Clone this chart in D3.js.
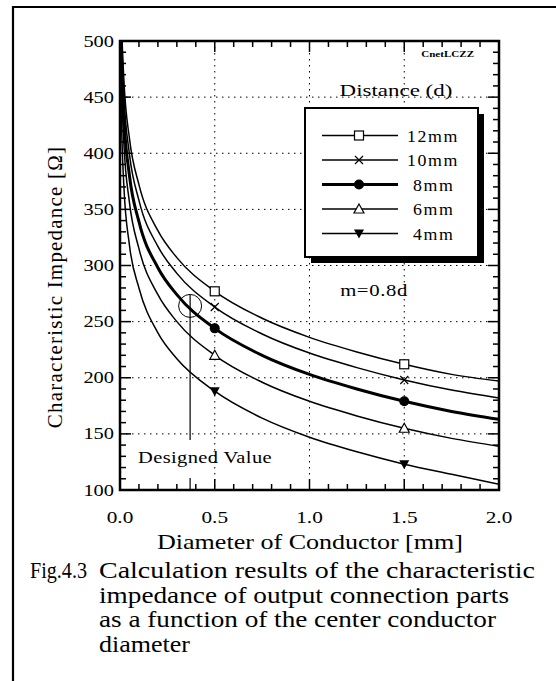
<!DOCTYPE html>
<html><head><meta charset="utf-8">
<script src="https://cdn.jsdelivr.net/npm/d3@7"></script>
<style>
html,body{margin:0;padding:0;background:#fff;}
svg{display:block;}
text{font-family:"Liberation Serif","Times New Roman",serif;fill:#000;}
</style></head>
<body>
<svg id="c" width="556" height="681"></svg>
<script>
// ---- data ----
const diameters = [0.005, 0.01, 0.02, 0.05, 0.1, 0.2, 0.3, 0.5, 0.75, 1.0, 1.25, 1.5, 1.75, 2.0];
const z12 = [549, 508, 467, 413, 372, 331, 307, 277, 253, 236, 223, 212, 203, 197];
const z10 = [535, 494, 453, 399, 358, 317, 293, 263, 239, 222, 209, 198, 189, 182];
const z8  = [516, 475, 434, 380, 339, 298, 274, 244, 220, 203, 190, 179, 170, 163];
const z6  = [492, 451, 410, 356, 315, 274, 250, 220, 196, 179, 166, 155, 146, 139];
const z4  = [455, 414, 372, 318, 280, 240, 217, 188, 164, 147, 134, 123, 114, 105];
const seriesNames = ["12mm", "10mm", "8mm", "6mm", "4mm"];
const markerX = [0.5, 1.5];
const xTicks = [0.0, 0.5, 1.0, 1.5, 2.0];
const yTicks = [100, 150, 200, 250, 300, 350, 400, 450, 500];
const designed = {d: 0.37, z: 264};

const series = [
  {name: seriesNames[0], z: z12, marker: "square", width: 1.5},
  {name: seriesNames[1], z: z10, marker: "cross", width: 1.5},
  {name: seriesNames[2], z: z8,  marker: "circle", width: 3},
  {name: seriesNames[3], z: z6,  marker: "triangle", width: 1.5},
  {name: seriesNames[4], z: z4,  marker: "dtriangle", width: 1.5}
];

const svg = d3.select("#c");
const L = 120, R = 499, T = 41, B = 490;
const x = d3.scaleLinear().domain([0, 2]).range([L, R]);
const y = d3.scaleLinear().domain([100, 500]).range([B, T]);

// text helper with horizontal stretch
function txt(parent, px, py, str, size, anchor, sx, extra) {
  const t = parent.append("text")
    .attr("transform", `translate(${px},${py}) scale(${sx},1)`)
    .attr("font-size", size).attr("text-anchor", anchor || "start").text(str);
  if (extra) Object.keys(extra).forEach(k => t.attr(k, extra[k]));
  return t;
}

// outer frame (partial)
svg.append("line").attr("x1", 12).attr("x2", 556).attr("y1", 7).attr("y2", 7).attr("stroke", "#000").attr("stroke-width", 2);
svg.append("line").attr("x1", 13).attr("x2", 13).attr("y1", 6).attr("y2", 681).attr("stroke", "#000").attr("stroke-width", 2.2);

svg.append("defs").append("clipPath").attr("id", "pc").append("rect")
  .attr("x", L).attr("y", T).attr("width", R - L).attr("height", B - T);

// grid
const g = svg.append("g");
g.selectAll(".gx").data(xTicks.slice(1, -1)).join("line")
  .attr("x1", d => x(d)).attr("x2", d => x(d)).attr("y1", T).attr("y2", B)
  .attr("stroke", "#000").attr("stroke-width", 1).attr("stroke-dasharray", "1.5,4.5");
g.selectAll(".gy").data(yTicks.slice(1, -1)).join("line")
  .attr("x1", L).attr("x2", R).attr("y1", d => y(d)).attr("y2", d => y(d))
  .attr("stroke", "#000").attr("stroke-width", 1).attr("stroke-dasharray", "1.5,4.5");

// axes with inward ticks
const minorX = d3.range(0, 2.0001, 0.1);
const minorY = d3.range(100, 500.1, 10);
function isMajorX(v){ return Math.abs(v*2 - Math.round(v*2)) < 1e-6; }
function isMajorY(v){ return Math.abs(v % 50) < 1e-6; }
const ax = svg.append("g");
ax.selectAll(".tb").data(minorX).join("line")
  .attr("x1", d => x(d)).attr("x2", d => x(d)).attr("y1", B).attr("y2", d => B - (isMajorX(d) ? 11 : 6))
  .attr("stroke", "#000").attr("stroke-width", 1.5);
ax.selectAll(".tt").data(minorX).join("line")
  .attr("x1", d => x(d)).attr("x2", d => x(d)).attr("y1", T).attr("y2", d => T + (isMajorX(d) ? 11 : 6))
  .attr("stroke", "#000").attr("stroke-width", 1.5);
ax.selectAll(".tl").data(minorY).join("line")
  .attr("y1", d => y(d)).attr("y2", d => y(d)).attr("x1", L).attr("x2", d => L + (isMajorY(d) ? 11 : 6))
  .attr("stroke", "#000").attr("stroke-width", 1.5);
ax.selectAll(".tr").data(minorY).join("line")
  .attr("y1", d => y(d)).attr("y2", d => y(d)).attr("x1", R).attr("x2", d => R - (isMajorY(d) ? 11 : 6))
  .attr("stroke", "#000").attr("stroke-width", 1.5);
svg.append("rect").attr("x", L).attr("y", T).attr("width", R - L).attr("height", B - T)
  .attr("fill", "none").attr("stroke", "#000").attr("stroke-width", 2.5);

// tick labels
const tl = svg.append("g");
yTicks.forEach(d => txt(tl, L - 6, y(d) + 5.5, d, 17, "end", 1.2));
xTicks.forEach(d => txt(tl, x(d), 523, d.toFixed(1), 17, "middle", 1.25));

// axis titles
svg.append("text").attr("x", 157).attr("y", 549).attr("font-size", 21)
  .attr("textLength", 306).attr("lengthAdjust", "spacingAndGlyphs").text("Diameter of Conductor [mm]");
svg.append("text").attr("transform", "translate(62,287) rotate(-90)").attr("text-anchor", "middle")
  .attr("font-size", 21).attr("letter-spacing", 1.2).text("Characteristic Impedance [Ω]");

// curves
const line = d3.line().x(d => x(d[0])).y(d => y(d[1])).curve(d3.curveMonotoneX);
const cg = svg.append("g").attr("clip-path", "url(#pc)");
series.forEach(s => {
  const pts = diameters.map((d, i) => [d, s.z[i]]);
  cg.append("path").attr("d", line(pts)).attr("fill", "none").attr("stroke", "#000").attr("stroke-width", s.width);
});

function drawMarker(sel, type, cx, cy) {
  const s = 4.5;
  if (type === "square") sel.append("rect").attr("x", cx - s).attr("y", cy - s).attr("width", 2*s).attr("height", 2*s).attr("fill", "#fff").attr("stroke", "#000").attr("stroke-width", 1.2);
  else if (type === "cross") sel.append("path").attr("d", `M${cx-4},${cy-4}L${cx+4},${cy+4}M${cx-4},${cy+4}L${cx+4},${cy-4}`).attr("stroke", "#000").attr("stroke-width", 1.2);
  else if (type === "circle") sel.append("circle").attr("cx", cx).attr("cy", cy).attr("r", 5).attr("fill", "#000");
  else if (type === "triangle") sel.append("path").attr("d", `M${cx},${cy-5}L${cx+5},${cy+4}L${cx-5},${cy+4}Z`).attr("fill", "#fff").attr("stroke", "#000").attr("stroke-width", 1.2);
  else if (type === "dtriangle") sel.append("path").attr("d", `M${cx},${cy+5}L${cx+5},${cy-4}L${cx-5},${cy-4}Z`).attr("fill", "#000");
}
const mg = svg.append("g");
series.forEach(s => {
  markerX.forEach(mx => {
    const i = diameters.indexOf(mx);
    drawMarker(mg, s.marker, x(mx), y(s.z[i]));
  });
});

// designed value annotation
const dcx = x(designed.d), dcy = y(designed.z);
svg.append("circle").attr("cx", dcx).attr("cy", dcy).attr("r", 11.5).attr("fill", "none").attr("stroke", "#000").attr("stroke-width", 1);
svg.append("line").attr("x1", dcx).attr("x2", dcx).attr("y1", dcy - 11).attr("y2", 440).attr("stroke", "#000").attr("stroke-width", 1.2);
svg.append("line").attr("x1", dcx).attr("x2", dcx).attr("y1", 478).attr("y2", B).attr("stroke", "#000").attr("stroke-width", 1.2);
const ann = svg.append("g");
txt(ann, 138, 463, "Designed Value", 16, "start", 1.28, {"letter-spacing": 0.3});

// small labels
txt(ann, 474, 57, "CnetLCZZ", 8.5, "end", 1.3, {"font-weight": "bold"});
txt(ann, 396, 96, "Distance (d)", 17, "middle", 1.35);
txt(ann, 374, 296, "m=0.8d", 17, "middle", 1.22, {"letter-spacing": 0.5});

// legend
const lx = 305, ly = 108, lw = 173, lh = 149;
svg.append("rect").attr("x", lx + 6).attr("y", ly + 6).attr("width", lw).attr("height", lh).attr("fill", "#000");
svg.append("rect").attr("x", lx).attr("y", ly).attr("width", lw).attr("height", lh).attr("fill", "#fff").attr("stroke", "#000").attr("stroke-width", 2);
const lg = svg.append("g");
series.forEach((s, i) => {
  const yy = 135.5 + i * 24.5;
  lg.append("line").attr("x1", 322).attr("x2", 398).attr("y1", yy).attr("y2", yy).attr("stroke", "#000").attr("stroke-width", s.width);
  drawMarker(lg, s.marker, 359, yy);
  txt(lg, s.name.length > 3 ? 407 : 413, yy + 6, s.name, 17, "start", 1.05, {"letter-spacing": 1.5});
});

// caption
const cap = svg.append("g");
cap.append("text").attr("x", 30).attr("y", 578).attr("font-size", 23)
  .attr("textLength", 57).attr("lengthAdjust", "spacingAndGlyphs").text("Fig.4.3");
const capLines = ["Calculation results of the characteristic", "impedance of output connection parts", "as a function of the center conductor", "diameter"];
const capWidths = [436, 410, 397, 91];
capLines.forEach((t, i) => {
  cap.append("text").attr("x", 99).attr("y", 578 + i * 24.7).attr("font-size", 23)
    .attr("textLength", capWidths[i]).attr("lengthAdjust", "spacingAndGlyphs").text(t);
});
</script>
</body></html>
